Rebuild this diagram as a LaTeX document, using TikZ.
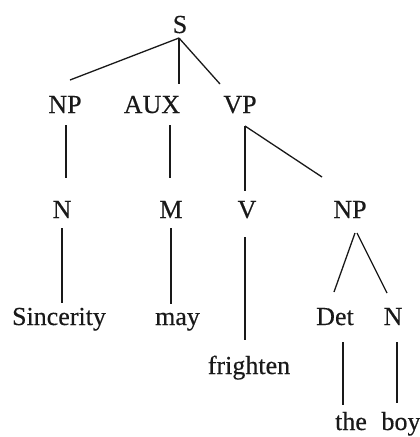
\documentclass[tikz,border=0pt]{standalone}
\usepackage{fontspec}
\setmainfont[FakeBold=0.35]{Liberation Serif}
\usetikzlibrary{calc}
\begin{document}
\begin{tikzpicture}[x=1pt,y=-1pt,
  lbl/.style={inner sep=0pt, anchor=base, font=\fontsize{26}{30}\selectfont, text=black!90},
  edge/.style={line width=1.3pt, black!90}]
\fill[white] (0,0) rectangle (420,437);
\useasboundingbox (0,0) rectangle (420,437);
% nodes
\node[lbl] (S) at (180,33) {S};
\node[lbl] (NPa) at (65,113) {NP};
\node[lbl] (AUX) at (152,113) {AUX};
\node[lbl] (VP) at (240,113) {VP};
\node[lbl] (Na) at (62,218) {N};
\node[lbl] (M) at (171,218) {M};
\node[lbl] (V) at (247,218) {V};
\node[lbl] (NPb) at (350,218) {NP};
\node[lbl] (Sinc) at (59,325) {Sincerity};
\node[lbl] (may) at (177.5,325) {may};
\node[lbl] (Det) at (335,325) {Det};
\node[lbl] (Nb) at (393,325) {N};
\node[lbl] (frig) at (249,374) {frighten};
\node[lbl] (the) at (351,430) {the};
\node[lbl] (boy) at (401,430) {boy};
% edges
\draw[edge] ($(S.base)+(-1,5)$) -- ($(NPa.base)+(5,-33)$);
\draw[edge] ($(S.base)+(-1,5)$) -- ($(AUX.base)+(27,-29)$);
\draw[edge] ($(S.base)+(-1,5)$) -- ($(VP.base)+(-20,-29)$);
\draw[edge] ($(NPa.base)+(1,12)$) -- ($(Na.base)+(4,-40)$);
\draw[edge] ($(AUX.base)+(18,12)$) -- ($(M.base)+(-1,-40)$);
\draw[edge] ($(VP.base)+(5,13)$) -- ($(V.base)+(-2,-27)$);
\draw[edge] ($(VP.base)+(5,13)$) -- ($(NPb.base)+(-28,-41)$);
\draw[edge] ($(Na.base)+(0,10)$) -- ($(Sinc.base)+(3,-22)$);
\draw[edge] ($(M.base)+(0,10)$) -- ($(may.base)+(-6.5,-21)$);
\draw[edge] ($(V.base)+(-2,19)$) -- ($(frig.base)+(-4,-34)$);
\draw[edge] ($(NPb.base)+(5,15)$) -- ($(Det.base)+(-1,-33)$);
\draw[edge] ($(NPb.base)+(7,15)$) -- ($(Nb.base)+(-6,-32)$);
\draw[edge] ($(Det.base)+(8,17)$) -- ($(the.base)+(-8,-25)$);
\draw[edge] ($(Nb.base)+(4,17)$) -- ($(boy.base)+(-4,-27)$);
\end{tikzpicture}
\end{document}
